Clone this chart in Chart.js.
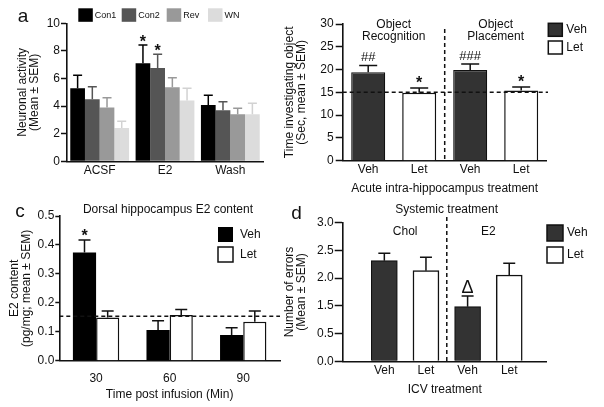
<!DOCTYPE html>
<html>
<head>
<meta charset="utf-8">
<script src="https://cdn.jsdelivr.net/npm/chart.js@4.4.0/dist/chart.umd.min.js"></script>
<style>
  html, body { margin: 0; padding: 0; background: #fff; }
  #wrap { position: relative; width: 604px; height: 407px; overflow: hidden; }
  #wrap canvas { position: absolute; left: 0; top: 0; }
</style>
</head>
<body>
<div id="wrap">
  <canvas id="chartA" width="604" height="407"></canvas>
  <canvas id="chartB" width="604" height="407"></canvas>
  <canvas id="chartC" width="604" height="407"></canvas>
  <canvas id="chartD" width="604" height="407"></canvas>
</div>
<script>
// panel a: neuronal activity
var groupsA = ['ACSF', 'E2', 'Wash'];
var con1 = [5.29, 7.10, 4.08];
var con1Err = [0.94, 1.33, 0.70];
var con2 = [4.49, 6.76, 3.70];
var con2Err = [0.92, 0.99, 0.62];
var rev = [3.89, 5.36, 3.41];
var revErr = [0.72, 0.70, 0.43];
var wn = [2.42, 4.40, 3.41];
var wnErr = [0.48, 0.89, 0.79];

// panel b: time investigating object
var tasksB = [['Object', 'Recognition'], ['Object', 'Placement']];
var vehB = [19.4, 19.9];
var vehBErr = [1.5, 1.3];
var letB = [14.9, 15.4];
var letBErr = [1.05, 0.8];
var chanceB = 15;

// panel c: dorsal hippocampus E2 content
var timesC = ['30', '60', '90'];
var vehC = [0.374, 0.106, 0.089];
var vehCErr = [0.043, 0.032, 0.025];
var letC = [0.149, 0.158, 0.135];
var letCErr = [0.023, 0.019, 0.037];
var baselineC = 0.154;

// panel d: number of errors (axis units; the printed labels skip 1.0)
var groupsD = ['Chol', 'E2'];
var xLabelsD = ['Veh', 'Let', 'Veh', 'Let'];
var vehD = [1.815, 0.985];
var vehDErr = [0.132, 0.193];
var letD = [1.635, 1.557];
var letDErr = [0.24, 0.21];
var yTicksD = ['0.0', '0.5', '1.5', '2.0', '2.5', '3.0'];

Chart.defaults.font.family = "'Liberation Sans', Arial, Helvetica, sans-serif";
Chart.defaults.color = '#111';
Chart.defaults.animation = false;

var FONT = "'Liberation Sans', Arial, Helvetica, sans-serif";

// Veh/Let alternate along the axis: put the values on every other slot
function spread(vals, offset) {
  var out = [];
  vals.forEach(function (v) {
    out.push(offset === 0 ? v : null);
    out.push(offset === 1 ? v : null);
  });
  return out;
}

function valueOf(raw) {
  if (raw !== null && typeof raw === 'object') return raw.y;
  return raw;
}

var extras = {
  id: 'extras',
  afterDatasetsDraw: function (chart, args, o) {
    var ctx = chart.ctx;
    var xs = chart.scales.x, ys = chart.scales.y, area = chart.chartArea;
    ctx.save();

    // error bars (upper half only)
    chart.data.datasets.forEach(function (ds, di) {
      if (!ds.errors) return;
      chart.getDatasetMeta(di).data.forEach(function (bar, i) {
        var v = valueOf(ds.data[i]);
        if (v === null || v === undefined) return;
        var top = ys.getPixelForValue(v + ds.errors[i]);
        ctx.strokeStyle = ds.errorColor || '#111';
        ctx.lineWidth = o.errWidth || 1.5;
        ctx.beginPath();
        ctx.moveTo(bar.x, bar.y);
        ctx.lineTo(bar.x, top);
        ctx.moveTo(bar.x - o.cap / 2, top);
        ctx.lineTo(bar.x + o.cap / 2, top);
        ctx.stroke();
      });
    });

    // dashed reference lines
    ctx.strokeStyle = '#111';
    ctx.lineWidth = 1.5;
    ctx.setLineDash([4, 3]);
    (o.hLines || []).forEach(function (h) {
      var py = ys.getPixelForValue(h.value);
      ctx.beginPath();
      ctx.moveTo(area.left, py);
      ctx.lineTo(h.right || area.right, py);
      ctx.stroke();
    });
    (o.vLines || []).forEach(function (v) {
      var px = xs.getPixelForValue(v.value);
      ctx.beginPath();
      ctx.moveTo(px, v.top);
      ctx.lineTo(px, area.bottom);
      ctx.stroke();
    });
    ctx.setLineDash([]);

    // significance marks above the error bars
    ctx.fillStyle = '#111';
    ctx.textAlign = 'center';
    ctx.textBaseline = 'alphabetic';
    (o.marks || []).forEach(function (m) {
      var ds = chart.data.datasets[m.ds];
      var bar = chart.getDatasetMeta(m.ds).data[m.i];
      var top = ys.getPixelForValue(valueOf(ds.data[m.i]) + ds.errors[m.i]);
      ctx.font = m.font + ' ' + FONT;
      ctx.fillText(m.text, bar.x, top - m.gap);
    });

    // group headings centred over pairs of bars
    ctx.textBaseline = 'middle';
    (o.groups || []).forEach(function (g) {
      var px = (xs.getPixelForValue(g.from) + xs.getPixelForValue(g.to)) / 2;
      ctx.font = (g.font || '12px') + ' ' + FONT;
      g.lines.forEach(function (line, k) {
        ctx.fillText(line, px, g.y + k * 12);
      });
    });

    // free text (panel letters, titles)
    (o.texts || []).forEach(function (t) {
      ctx.font = t.font + ' ' + FONT;
      ctx.textAlign = t.align || 'center';
      ctx.fillText(t.text, t.x, t.y);
    });

    // legend boxes
    if (o.legend) {
      var lg = o.legend;
      ctx.textAlign = 'left';
      ctx.font = lg.font + ' ' + FONT;
      chart.data.datasets.forEach(function (ds, di) {
        var p = lg.boxes[di];
        ctx.fillStyle = ds.backgroundColor;
        ctx.fillRect(p[0], p[1], lg.w, lg.h);
        if (ds.borderWidth) {
          ctx.strokeStyle = ds.borderColor;
          ctx.lineWidth = 1.5;
          ctx.strokeRect(p[0], p[1], lg.w, lg.h);
        }
        ctx.fillStyle = '#111';
        ctx.fillText(ds.label, p[0] + lg.w + lg.gap, p[1] + lg.h / 2 + (lg.dy || 0));
      });
    }
    ctx.restore();
  }
};

function yAxis(o) {
  var ticks = { stepSize: o.step, font: { size: o.size || 12 }, color: '#111', padding: o.pad };
  if (o.cb) ticks.callback = o.cb;
  return {
    min: o.min,
    max: o.max,
    ticks: ticks,
    grid: { display: true, drawOnChartArea: false, drawTicks: true, tickLength: o.tl, tickColor: '#111', tickWidth: 1.5 },
    border: { display: true, color: '#111', width: 1.6 },
    title: { display: true, text: o.title, font: { size: 12, lineHeight: 1 }, padding: 0, color: '#111' },
    afterFit: function (s) { s.width = o.w; }
  };
}

function xAxis(o) {
  var ticks = { font: { size: o.size || 12 }, color: '#111', padding: o.pad, maxRotation: 0, autoSkip: false };
  if (o.cb) ticks.callback = o.cb;
  return {
    grid: { display: false },
    border: { display: true, color: '#111', width: 1.6 },
    ticks: ticks,
    title: o.title ? { display: true, text: o.title, font: { size: 12 }, padding: 0, color: '#111' } : { display: false },
    afterFit: function (s) { s.height = o.h; }
  };
}

function plugins(extra) {
  return { legend: { display: false }, tooltip: { enabled: false }, extras: extra };
}

// ---- panel a
new Chart(document.getElementById('chartA'), {
  type: 'bar',
  data: {
    labels: groupsA,
    datasets: [
      { label: 'Con1', data: con1, errors: con1Err, backgroundColor: '#000000', errorColor: '#000000' },
      { label: 'Con2', data: con2, errors: con2Err, backgroundColor: '#555555', errorColor: '#555555' },
      { label: 'Rev', data: rev, errors: revErr, backgroundColor: '#999999', errorColor: '#999999' },
      { label: 'WN', data: wn, errors: wnErr, backgroundColor: '#dcdcdc', errorColor: '#d2d2d2' }
    ]
  },
  options: {
    responsive: false,
    datasets: { bar: { categoryPercentage: 0.9, barPercentage: 1 } },
    layout: { padding: { left: 17, top: 23.3, right: 341, bottom: 220.7 } },
    scales: {
      x: xAxis({ h: 25, pad: -5.5, size: 12 }),
      y: yAxis({ min: 0, max: 10, step: 2, tl: 6, pad: 1, w: 50, title: ['Neuronal activity', '(Mean \u00b1 SEM)'] })
    },
    plugins: plugins({
      cap: 9,
      marks: [
        { text: '*', ds: 0, i: 1, gap: -2, font: 'bold 16px' },
        { text: '*', ds: 1, i: 1, gap: -2, font: 'bold 16px' }
      ],
      texts: [{ text: 'a', x: 23, y: 16.5, font: '19px' }],
      legend: { boxes: [[78.3, 8.3], [121.7, 8.3], [166.7, 8.3], [208, 8.3]], w: 14.5, h: 13.5, gap: 2, font: '9px' }
    })
  },
  plugins: [extras]
});

// ---- panel b
new Chart(document.getElementById('chartB'), {
  type: 'bar',
  data: {
    labels: tasksB.map(function () { return ['Veh', 'Let']; }).reduce(function (a, b) { return a.concat(b); }, []),
    datasets: [
      { label: 'Veh', data: spread(vehB, 0), errors: spread(vehBErr, 0), backgroundColor: '#333333', borderColor: '#111', borderWidth: 1.2 },
      { label: 'Let', data: spread(letB, 1), errors: spread(letBErr, 1), backgroundColor: '#ffffff', borderColor: '#111', borderWidth: 1.5 }
    ]
  },
  options: {
    responsive: false,
    datasets: { bar: { grouped: false, categoryPercentage: 1, barPercentage: 0.667 } },
    layout: { padding: { left: 284, top: 24, right: 57.3, bottom: 210.8 } },
    scales: {
      x: xAxis({ h: 35.5, pad: -6, title: 'Acute intra-hippocampus treatment' }),
      y: yAxis({ min: 0, max: 30, step: 5, tl: 7, pad: 2, w: 58.7, title: ['Time investigating object', '(Sec, mean \u00b1 SEM)'] })
    },
    plugins: plugins({
      cap: 18,
      hLines: [{ value: chanceB, right: 548 }],
      vLines: [{ value: 1.5, top: 29 }],
      marks: [
        { text: '##', ds: 0, i: 0, gap: 4.5, font: '13px' },
        { text: '*', ds: 1, i: 1, gap: 0, font: 'bold 16px' },
        { text: '###', ds: 0, i: 2, gap: 4.5, font: '13px' },
        { text: '*', ds: 1, i: 3, gap: 0, font: 'bold 16px' }
      ],
      groups: [
        { lines: tasksB[0], from: 0, to: 1, y: 25 },
        { lines: tasksB[1], from: 2, to: 3, y: 25 }
      ],
      legend: { boxes: [[548.3, 23.3], [548.3, 41]], w: 14, h: 13, gap: 4, font: '12px' }
    })
  },
  plugins: [extras]
});

// ---- panel c
new Chart(document.getElementById('chartC'), {
  type: 'bar',
  data: {
    labels: timesC,
    datasets: [
      { label: 'Veh', data: vehC, errors: vehCErr, backgroundColor: '#000000', borderColor: '#000', borderWidth: 0 },
      { label: 'Let', data: letC, errors: letCErr, backgroundColor: '#ffffff', borderColor: '#111', borderWidth: 1.5 }
    ]
  },
  options: {
    responsive: false,
    datasets: { bar: { categoryPercentage: 0.63, barPercentage: 1 } },
    layout: { padding: { left: 9, top: 216, right: 324, bottom: 5.6 } },
    scales: {
      x: xAxis({ h: 40.7, pad: 3, title: 'Time post infusion (Min)' }),
      y: yAxis({ min: 0, max: 0.5, step: 0.1, tl: 4, pad: 1, w: 50.3, title: ['E2 content', '(pg/mg; mean \u00b1 SEM)'],
        cb: function (v) { return v.toFixed(1); } })
    },
    plugins: plugins({
      cap: 12,
      hLines: [{ value: baselineC }],
      marks: [{ text: '*', ds: 0, i: 0, gap: -1, font: 'bold 16px' }],
      texts: [
        { text: 'c', x: 20, y: 212, font: '19px' },
        { text: 'Dorsal hippocampus E2 content', x: 168, y: 210, font: '12px' }
      ],
      legend: { boxes: [[218, 227], [218, 247]], w: 15, h: 15, gap: 7, font: '12px' }
    })
  },
  plugins: [extras]
});

// ---- panel d
var slotsD = [1, 2, 3, 4];
var axisD = xAxis({ h: 35.9, pad: -5.5, title: 'ICV treatment',
  cb: function (v) { return xLabelsD[Math.round(v) - 1]; } });
axisD.type = 'linear';
axisD.min = 0;
axisD.max = 4.9;
axisD.offset = false;
axisD.afterBuildTicks = function (s) { s.ticks = slotsD.map(function (v) { return { value: v }; }); };

new Chart(document.getElementById('chartD'), {
  type: 'bar',
  data: {
    datasets: [
      { label: 'Veh', data: vehD.map(function (v, k) { return { x: slotsD[k * 2], y: v }; }),
        errors: vehDErr, backgroundColor: '#333333', borderColor: '#111', borderWidth: 1.2 },
      { label: 'Let', data: letD.map(function (v, k) { return { x: slotsD[k * 2 + 1], y: v }; }),
        errors: letDErr, backgroundColor: '#ffffff', borderColor: '#111', borderWidth: 1.5 }
    ]
  },
  options: {
    responsive: false,
    datasets: { bar: { grouped: false, barThickness: 26 } },
    layout: { padding: { left: 284, top: 222.7, right: 57.3, bottom: 9.8 } },
    scales: {
      x: axisD,
      y: yAxis({ min: 0, max: 2.5, step: 0.5, tl: 8, pad: 1, w: 58.7, title: ['Number of errors', '(Mean \u00b1 SEM)'],
        cb: function (v, i) { return yTicksD[i]; } })
    },
    plugins: plugins({
      cap: 12,
      vLines: [{ value: 2.5, top: 217 }],
      marks: [{ text: '\u0394', ds: 0, i: 1, gap: 2.5, font: '18px' }],
      groups: [
        { lines: [groupsD[0]], from: 1, to: 2, y: 232 },
        { lines: [groupsD[1]], from: 3, to: 4, y: 232 }
      ],
      texts: [
        { text: 'd', x: 296.5, y: 213.5, font: '19px' },
        { text: 'Systemic treatment', x: 446.7, y: 210, font: '12px' }
      ],
      legend: { boxes: [[547, 225], [547, 247]], w: 16, h: 16, gap: 4, font: '12px' }
    })
  },
  plugins: [extras]
});
</script>
</body>
</html>
